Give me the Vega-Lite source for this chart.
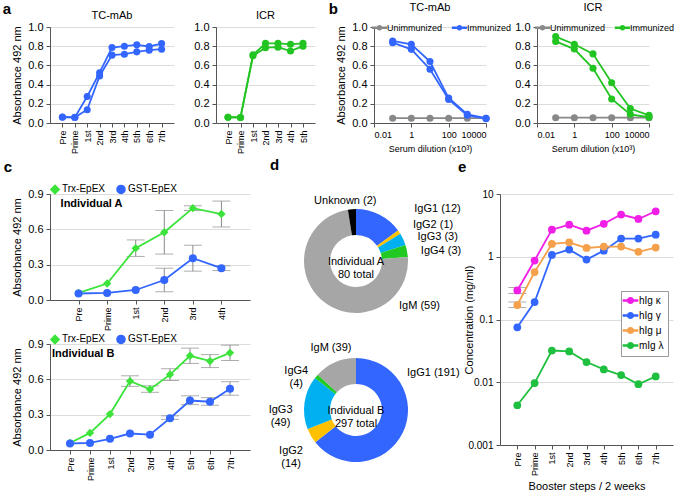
{
  "$schema": "https://vega.github.io/schema/vega-lite/v6.json",
  "padding": {"left": 2, "top": 2, "right": 0, "bottom": 0},
  "spacing": 4,
  "resolve": {"scale": {"color": "independent", "shape": "independent", "size": "independent"}, "legend": {"color": "independent"}},
  "datasets": {
    "a": [
      {"strain": "TC-mAb", "rep": "1", "step": "Pre", "abs": 0.062},
      {"strain": "TC-mAb", "rep": "1", "step": "Prime", "abs": 0.058},
      {"strain": "TC-mAb", "rep": "1", "step": "1st", "abs": 0.276},
      {"strain": "TC-mAb", "rep": "1", "step": "2nd", "abs": 0.524},
      {"strain": "TC-mAb", "rep": "1", "step": "3rd", "abs": 0.786},
      {"strain": "TC-mAb", "rep": "1", "step": "4th", "abs": 0.8},
      {"strain": "TC-mAb", "rep": "1", "step": "5th", "abs": 0.814},
      {"strain": "TC-mAb", "rep": "1", "step": "6th", "abs": 0.797},
      {"strain": "TC-mAb", "rep": "1", "step": "7th", "abs": 0.828},
      {"strain": "TC-mAb", "rep": "2", "step": "Pre", "abs": 0.06},
      {"strain": "TC-mAb", "rep": "2", "step": "Prime", "abs": 0.06},
      {"strain": "TC-mAb", "rep": "2", "step": "1st", "abs": 0.138},
      {"strain": "TC-mAb", "rep": "2", "step": "2nd", "abs": 0.49},
      {"strain": "TC-mAb", "rep": "2", "step": "3rd", "abs": 0.707},
      {"strain": "TC-mAb", "rep": "2", "step": "4th", "abs": 0.717},
      {"strain": "TC-mAb", "rep": "2", "step": "5th", "abs": 0.741},
      {"strain": "TC-mAb", "rep": "2", "step": "6th", "abs": 0.759},
      {"strain": "TC-mAb", "rep": "2", "step": "7th", "abs": 0.769},
      {"strain": "ICR", "rep": "1", "step": "Pre", "abs": 0.06},
      {"strain": "ICR", "rep": "1", "step": "Prime", "abs": 0.058},
      {"strain": "ICR", "rep": "1", "step": "1st", "abs": 0.71},
      {"strain": "ICR", "rep": "1", "step": "2nd", "abs": 0.83},
      {"strain": "ICR", "rep": "1", "step": "3rd", "abs": 0.83},
      {"strain": "ICR", "rep": "1", "step": "4th", "abs": 0.82},
      {"strain": "ICR", "rep": "1", "step": "5th", "abs": 0.83},
      {"strain": "ICR", "rep": "2", "step": "Pre", "abs": 0.06},
      {"strain": "ICR", "rep": "2", "step": "Prime", "abs": 0.058},
      {"strain": "ICR", "rep": "2", "step": "1st", "abs": 0.7},
      {"strain": "ICR", "rep": "2", "step": "2nd", "abs": 0.785},
      {"strain": "ICR", "rep": "2", "step": "3rd", "abs": 0.79},
      {"strain": "ICR", "rep": "2", "step": "4th", "abs": 0.75},
      {"strain": "ICR", "rep": "2", "step": "5th", "abs": 0.8}
    ],
    "b": [
      {"strain": "TC-mAb", "grp": "Unimmunized", "rep": "u1", "dil": 0.1, "abs": 0.05},
      {"strain": "TC-mAb", "grp": "Unimmunized", "rep": "u1", "dil": 1, "abs": 0.05},
      {"strain": "TC-mAb", "grp": "Unimmunized", "rep": "u1", "dil": 10, "abs": 0.05},
      {"strain": "TC-mAb", "grp": "Unimmunized", "rep": "u1", "dil": 100, "abs": 0.05},
      {"strain": "TC-mAb", "grp": "Unimmunized", "rep": "u1", "dil": 1000, "abs": 0.05},
      {"strain": "TC-mAb", "grp": "Unimmunized", "rep": "u1", "dil": 10000, "abs": 0.05},
      {"strain": "TC-mAb", "grp": "Immunized", "rep": "i1", "dil": 0.1, "abs": 0.855},
      {"strain": "TC-mAb", "grp": "Immunized", "rep": "i1", "dil": 1, "abs": 0.82},
      {"strain": "TC-mAb", "grp": "Immunized", "rep": "i1", "dil": 10, "abs": 0.64},
      {"strain": "TC-mAb", "grp": "Immunized", "rep": "i1", "dil": 100, "abs": 0.26},
      {"strain": "TC-mAb", "grp": "Immunized", "rep": "i1", "dil": 1000, "abs": 0.09},
      {"strain": "TC-mAb", "grp": "Immunized", "rep": "i1", "dil": 10000, "abs": 0.05},
      {"strain": "TC-mAb", "grp": "Immunized", "rep": "i2", "dil": 0.1, "abs": 0.837},
      {"strain": "TC-mAb", "grp": "Immunized", "rep": "i2", "dil": 1, "abs": 0.767},
      {"strain": "TC-mAb", "grp": "Immunized", "rep": "i2", "dil": 10, "abs": 0.56},
      {"strain": "TC-mAb", "grp": "Immunized", "rep": "i2", "dil": 100, "abs": 0.245},
      {"strain": "TC-mAb", "grp": "Immunized", "rep": "i2", "dil": 1000, "abs": 0.08},
      {"strain": "TC-mAb", "grp": "Immunized", "rep": "i2", "dil": 10000, "abs": 0.045},
      {"strain": "ICR", "grp": "Unimmunized", "rep": "u1", "dil": 0.1, "abs": 0.055},
      {"strain": "ICR", "grp": "Unimmunized", "rep": "u1", "dil": 1, "abs": 0.055},
      {"strain": "ICR", "grp": "Unimmunized", "rep": "u1", "dil": 10, "abs": 0.055},
      {"strain": "ICR", "grp": "Unimmunized", "rep": "u1", "dil": 100, "abs": 0.055},
      {"strain": "ICR", "grp": "Unimmunized", "rep": "u1", "dil": 1000, "abs": 0.055},
      {"strain": "ICR", "grp": "Unimmunized", "rep": "u1", "dil": 10000, "abs": 0.055},
      {"strain": "ICR", "grp": "Immunized", "rep": "i1", "dil": 0.1, "abs": 0.9},
      {"strain": "ICR", "grp": "Immunized", "rep": "i1", "dil": 1, "abs": 0.82},
      {"strain": "ICR", "grp": "Immunized", "rep": "i1", "dil": 10, "abs": 0.72},
      {"strain": "ICR", "grp": "Immunized", "rep": "i1", "dil": 100, "abs": 0.42},
      {"strain": "ICR", "grp": "Immunized", "rep": "i1", "dil": 1000, "abs": 0.15},
      {"strain": "ICR", "grp": "Immunized", "rep": "i1", "dil": 10000, "abs": 0.08},
      {"strain": "ICR", "grp": "Immunized", "rep": "i2", "dil": 0.1, "abs": 0.85},
      {"strain": "ICR", "grp": "Immunized", "rep": "i2", "dil": 1, "abs": 0.77},
      {"strain": "ICR", "grp": "Immunized", "rep": "i2", "dil": 10, "abs": 0.57},
      {"strain": "ICR", "grp": "Immunized", "rep": "i2", "dil": 100, "abs": 0.25},
      {"strain": "ICR", "grp": "Immunized", "rep": "i2", "dil": 1000, "abs": 0.09},
      {"strain": "ICR", "grp": "Immunized", "rep": "i2", "dil": 10000, "abs": 0.06}
    ],
    "c": [
      {"ind": "A", "ag": "Trx-EpEX", "step": "Pre", "abs": 0.06},
      {"ind": "A", "ag": "Trx-EpEX", "step": "Prime", "abs": 0.14},
      {"ind": "A", "ag": "Trx-EpEX", "step": "1st", "abs": 0.44, "lo": 0.37, "hi": 0.51},
      {"ind": "A", "ag": "Trx-EpEX", "step": "2nd", "abs": 0.575, "lo": 0.39, "hi": 0.76},
      {"ind": "A", "ag": "Trx-EpEX", "step": "3rd", "abs": 0.78, "lo": 0.76, "hi": 0.8},
      {"ind": "A", "ag": "Trx-EpEX", "step": "4th", "abs": 0.73, "lo": 0.62, "hi": 0.84},
      {"ind": "A", "ag": "GST-EpEX", "step": "Pre", "abs": 0.055},
      {"ind": "A", "ag": "GST-EpEX", "step": "Prime", "abs": 0.06},
      {"ind": "A", "ag": "GST-EpEX", "step": "1st", "abs": 0.085},
      {"ind": "A", "ag": "GST-EpEX", "step": "2nd", "abs": 0.17, "lo": 0.07, "hi": 0.27},
      {"ind": "A", "ag": "GST-EpEX", "step": "3rd", "abs": 0.355, "lo": 0.245, "hi": 0.465},
      {"ind": "A", "ag": "GST-EpEX", "step": "4th", "abs": 0.27, "lo": 0.25, "hi": 0.29},
      {"ind": "B", "ag": "Trx-EpEX", "step": "Pre", "abs": 0.06},
      {"ind": "B", "ag": "Trx-EpEX", "step": "Prime", "abs": 0.145},
      {"ind": "B", "ag": "Trx-EpEX", "step": "1st", "abs": 0.305},
      {"ind": "B", "ag": "Trx-EpEX", "step": "2nd", "abs": 0.585, "lo": 0.54, "hi": 0.63},
      {"ind": "B", "ag": "Trx-EpEX", "step": "3rd", "abs": 0.515, "lo": 0.49, "hi": 0.545},
      {"ind": "B", "ag": "Trx-EpEX", "step": "4th", "abs": 0.64, "lo": 0.59, "hi": 0.69},
      {"ind": "B", "ag": "Trx-EpEX", "step": "5th", "abs": 0.8, "lo": 0.735, "hi": 0.865},
      {"ind": "B", "ag": "Trx-EpEX", "step": "6th", "abs": 0.755, "lo": 0.7, "hi": 0.81},
      {"ind": "B", "ag": "Trx-EpEX", "step": "7th", "abs": 0.825, "lo": 0.76, "hi": 0.89},
      {"ind": "B", "ag": "GST-EpEX", "step": "Pre", "abs": 0.055},
      {"ind": "B", "ag": "GST-EpEX", "step": "Prime", "abs": 0.06},
      {"ind": "B", "ag": "GST-EpEX", "step": "1st", "abs": 0.095},
      {"ind": "B", "ag": "GST-EpEX", "step": "2nd", "abs": 0.14},
      {"ind": "B", "ag": "GST-EpEX", "step": "3rd", "abs": 0.13},
      {"ind": "B", "ag": "GST-EpEX", "step": "4th", "abs": 0.27, "lo": 0.26, "hi": 0.29},
      {"ind": "B", "ag": "GST-EpEX", "step": "5th", "abs": 0.42, "lo": 0.385, "hi": 0.46},
      {"ind": "B", "ag": "GST-EpEX", "step": "6th", "abs": 0.41, "lo": 0.38, "hi": 0.445},
      {"ind": "B", "ag": "GST-EpEX", "step": "7th", "abs": 0.52, "lo": 0.465, "hi": 0.58}
    ],
    "d": [
      {"ind": "A", "iso": "IgG1", "n": 12, "ord": 1, "label": "IgG1 (12)", "center": "Individual A\n80 total"},
      {"ind": "A", "iso": "IgG2", "n": 1, "ord": 2, "label": "IgG2 (1)"},
      {"ind": "A", "iso": "IgG3", "n": 3, "ord": 3, "label": "IgG3 (3)"},
      {"ind": "A", "iso": "IgG4", "n": 3, "ord": 4, "label": "IgG4 (3)"},
      {"ind": "A", "iso": "IgM", "n": 59, "ord": 5, "label": "IgM (59)"},
      {"ind": "A", "iso": "Unknown", "n": 2, "ord": 6, "label": "Unknown (2)"},
      {"ind": "B", "iso": "IgG1", "n": 191, "ord": 1, "label": "IgG1 (191)", "center": "Individual B\n297 total"},
      {"ind": "B", "iso": "IgG2", "n": 14, "ord": 2, "label": "IgG2\n(14)"},
      {"ind": "B", "iso": "IgG3", "n": 49, "ord": 3, "label": "IgG3\n(49)"},
      {"ind": "B", "iso": "IgG4", "n": 4, "ord": 4, "label": "IgG4\n(4)"},
      {"ind": "B", "iso": "IgM", "n": 39, "ord": 5, "label": "IgM (39)"}
    ],
    "e": [
      {"ig": "hIg κ", "step": "Pre", "conc": 0.29, "lo": 0.26, "hi": 0.325},
      {"ig": "hIg κ", "step": "Prime", "conc": 0.87},
      {"ig": "hIg κ", "step": "1st", "conc": 2.7},
      {"ig": "hIg κ", "step": "2nd", "conc": 3.25},
      {"ig": "hIg κ", "step": "3rd", "conc": 2.6},
      {"ig": "hIg κ", "step": "4th", "conc": 3.35},
      {"ig": "hIg κ", "step": "5th", "conc": 4.7},
      {"ig": "hIg κ", "step": "6th", "conc": 4.0},
      {"ig": "hIg κ", "step": "7th", "conc": 5.3},
      {"ig": "hIg γ", "step": "Pre", "conc": 0.075},
      {"ig": "hIg γ", "step": "Prime", "conc": 0.19},
      {"ig": "hIg γ", "step": "1st", "conc": 1.07},
      {"ig": "hIg γ", "step": "2nd", "conc": 1.3},
      {"ig": "hIg γ", "step": "3rd", "conc": 0.9},
      {"ig": "hIg γ", "step": "4th", "conc": 1.25},
      {"ig": "hIg γ", "step": "5th", "conc": 1.95},
      {"ig": "hIg γ", "step": "6th", "conc": 1.95},
      {"ig": "hIg γ", "step": "7th", "conc": 2.25},
      {"ig": "hIg μ", "step": "Pre", "conc": 0.17, "lo": 0.155, "hi": 0.19},
      {"ig": "hIg μ", "step": "Prime", "conc": 0.57},
      {"ig": "hIg μ", "step": "1st", "conc": 1.6},
      {"ig": "hIg μ", "step": "2nd", "conc": 1.7},
      {"ig": "hIg μ", "step": "3rd", "conc": 1.38},
      {"ig": "hIg μ", "step": "4th", "conc": 1.45},
      {"ig": "hIg μ", "step": "5th", "conc": 1.45},
      {"ig": "hIg μ", "step": "6th", "conc": 1.2},
      {"ig": "hIg μ", "step": "7th", "conc": 1.4},
      {"ig": "mIg λ", "step": "Pre", "conc": 0.0043},
      {"ig": "mIg λ", "step": "Prime", "conc": 0.0097},
      {"ig": "mIg λ", "step": "1st", "conc": 0.032},
      {"ig": "mIg λ", "step": "2nd", "conc": 0.031},
      {"ig": "mIg λ", "step": "3rd", "conc": 0.021},
      {"ig": "mIg λ", "step": "4th", "conc": 0.016},
      {"ig": "mIg λ", "step": "5th", "conc": 0.013},
      {"ig": "mIg λ", "step": "6th", "conc": 0.0093},
      {"ig": "mIg λ", "step": "7th", "conc": 0.0124}
    ]
  },
  "config": {
    "font": "Liberation Sans",
    "view": {"stroke": null},
    "axis": {"labelColor": "#000", "titleColor": "#000", "labelFontSize": 11, "titleFontSize": 11, "titleFontWeight": "normal", "domainColor": "#555", "tickColor": "#555", "gridColor": "#dcdcdc", "labelPadding": 3, "tickSize": 4, "titlePadding": 5},
    "axisX": {"grid": false},
    "title": {"fontWeight": "normal", "fontSize": 11, "color": "#000"},
    "legend": {"labelColor": "#000", "labelFontSize": 9, "title": null}
  },
  "vconcat": [
    {
      "spacing": 13,
      "resolve": {"scale": {"color": "independent"}, "legend": {"color": "independent"}},
      "hconcat": [
        {
          "title": {"text": "a", "anchor": "start", "fontSize": 15, "fontWeight": "bold", "offset": -7, "dx": -9},
          "spacing": 19,
          "hconcat": [
            {
              "width": 124, "height": 96,
              "title": {"text": "TC-mAb", "offset": 0},
              "data": {"name": "a"},
              "transform": [{"filter": "datum.strain === 'TC-mAb'"}],
              "encoding": {
                "x": {"field": "step", "type": "ordinal", "sort": ["Pre", "Prime", "1st", "2nd", "3rd", "4th", "5th", "6th", "7th"], "scale": {"type": "point", "padding": 1.1}, "axis": {"title": null, "labelAngle": -90, "labelFontSize": 9}},
                "y": {"field": "abs", "type": "quantitative", "scale": {"domain": [0, 1]}, "axis": {"title": "Absorbance 492 nm", "values": [0, 0.2, 0.4, 0.6, 0.8, 1], "format": ".1f"}},
                "detail": {"field": "rep", "type": "nominal"}
              },
              "layer": [
                {"mark": {"type": "line", "color": "#3366ff", "strokeWidth": 1.8}},
                {"mark": {"type": "point", "filled": true, "opacity": 1, "size": 50, "color": "#3366ff"}}
              ]
            },
            {
              "width": 99, "height": 96,
              "title": {"text": "ICR", "offset": 0},
              "data": {"name": "a"},
              "transform": [{"filter": "datum.strain === 'ICR'"}],
              "encoding": {
                "x": {"field": "step", "type": "ordinal", "sort": ["Pre", "Prime", "1st", "2nd", "3rd", "4th", "5th"], "scale": {"type": "point", "padding": 0.96}, "axis": {"title": null, "labelAngle": -90, "labelFontSize": 9}},
                "y": {"field": "abs", "type": "quantitative", "scale": {"domain": [0, 1]}, "axis": {"title": null, "values": [0, 0.2, 0.4, 0.6, 0.8, 1], "format": ".1f"}},
                "detail": {"field": "rep", "type": "nominal"}
              },
              "layer": [
                {"mark": {"type": "line", "color": "#22c422", "strokeWidth": 1.8}},
                {"mark": {"type": "point", "filled": true, "opacity": 1, "size": 50, "color": "#22c422"}}
              ]
            }
          ]
        },
        {
          "title": {"text": "b", "anchor": "start", "fontSize": 15, "fontWeight": "bold", "offset": -15, "dx": -7},
          "spacing": 2,
          "resolve": {"scale": {"color": "independent"}, "legend": {"color": "independent"}},
          "hconcat": [
            {
              "width": 112, "height": 96,
              "title": {"text": "TC-mAb", "offset": 8},
              "data": {"name": "b"},
              "transform": [{"filter": "datum.strain === 'TC-mAb'"}],
              "encoding": {
                "x": {"field": "dil", "type": "quantitative", "scale": {"type": "log", "domain": [0.01, 10000], "nice": false}, "axis": {"title": "Serum dilution (x10³)", "values": [0.01, 1, 100, 10000], "format": "~g", "labelFontSize": 9, "titleFontSize": 9}},
                "y": {"field": "abs", "type": "quantitative", "scale": {"domain": [0, 1]}, "axis": {"title": "Absorbance 492 nm", "values": [0, 0.2, 0.4, 0.6, 0.8, 1], "format": ".1f"}},
                "detail": {"field": "rep", "type": "nominal"},
                "color": {"field": "grp", "type": "nominal", "scale": {"domain": ["Unimmunized", "Immunized"], "range": ["#888888", "#3366ff"]}, "legend": {"orient": "top", "direction": "horizontal", "offset": -6, "padding": 0, "columnPadding": 6, "symbolSize": 85, "labelOffset": 2, "encode": {"symbols": {"update": {"shape": {"value": "M-1.5,-0.12L1.5,-0.12L1.5,0.12L-1.5,0.12Z M0.45,0A0.45,0.45,0,1,1,-0.45,0A0.45,0.45,0,1,1,0.45,0Z"}, "fill": {"signal": "datum.value === 'Immunized' ? '#3366ff' : '#888888'"}, "stroke": {"value": "transparent"}}}}}}
              },
              "layer": [
                {"mark": {"type": "line", "strokeWidth": 1.8}},
                {"mark": {"type": "point", "filled": true, "opacity": 1, "size": 50}}
              ]
            },
            {
              "width": 112, "height": 96,
              "title": {"text": "ICR", "offset": 8},
              "data": {"name": "b"},
              "transform": [{"filter": "datum.strain === 'ICR'"}],
              "encoding": {
                "x": {"field": "dil", "type": "quantitative", "scale": {"type": "log", "domain": [0.01, 10000], "nice": false}, "axis": {"title": "Serum dilution (x10³)", "values": [0.01, 1, 100, 10000], "format": "~g", "labelFontSize": 9, "titleFontSize": 9}},
                "y": {"field": "abs", "type": "quantitative", "scale": {"domain": [0, 1]}, "axis": {"title": null, "values": [0, 0.2, 0.4, 0.6, 0.8, 1], "format": ".1f"}},
                "detail": {"field": "rep", "type": "nominal"},
                "color": {"field": "grp", "type": "nominal", "scale": {"domain": ["Unimmunized", "Immunized"], "range": ["#888888", "#22c422"]}, "legend": {"orient": "top", "direction": "horizontal", "offset": -6, "padding": 0, "columnPadding": 6, "symbolSize": 85, "labelOffset": 2, "encode": {"symbols": {"update": {"shape": {"value": "M-1.5,-0.12L1.5,-0.12L1.5,0.12L-1.5,0.12Z M0.45,0A0.45,0.45,0,1,1,-0.45,0A0.45,0.45,0,1,1,0.45,0Z"}, "fill": {"signal": "datum.value === 'Immunized' ? '#22c422' : '#888888'"}, "stroke": {"value": "transparent"}}}}}}
              },
              "layer": [
                {"mark": {"type": "line", "strokeWidth": 1.8}},
                {"mark": {"type": "point", "filled": true, "opacity": 1, "size": 50}}
              ]
            }
          ]
        }
      ]
    },
    {
      "spacing": 8,
      "resolve": {"scale": {"color": "independent", "shape": "independent", "size": "independent"}, "legend": {"color": "independent"}},
      "hconcat": [
        {
          "spacing": 3,
          "resolve": {"scale": {"color": "independent", "shape": "independent", "size": "independent"}, "legend": {"color": "independent"}},
          "vconcat": [
            {
              "width": 200, "height": 106,
              "title": {"text": "c", "anchor": "start", "frame": "bounds", "fontSize": 15, "fontWeight": "bold", "offset": 9, "dx": -8},
              "data": {"name": "c"},
              "transform": [{"filter": "datum.ind === 'A'"}],
              "encoding": {
                "x": {"field": "step", "type": "ordinal", "sort": ["Pre", "Prime", "1st", "2nd", "3rd", "4th", "5th", "6th", "7th"], "scale": {"type": "point", "padding": 1.05}, "axis": {"title": null, "labelAngle": -90, "labelFontSize": 9, "labelExpr": "indexof(['Pre','Prime','1st','2nd','3rd','4th'], datum.value) >= 0 ? datum.value : ''"}},
                "y": {"field": "abs", "type": "quantitative", "scale": {"domain": [0, 0.9]}, "axis": {"title": "Absorbance 492 nm", "values": [0, 0.3, 0.6, 0.9], "format": ".1f"}},
                "color": {"field": "ag", "type": "nominal", "scale": {"domain": ["Trx-EpEX", "GST-EpEX"], "range": ["#3be33b", "#3366ff"]}, "legend": {"orient": "top", "direction": "horizontal", "offset": -3, "padding": 0, "columnPadding": 8, "symbolSize": 90, "labelOffset": 2, "labelFontSize": 10, "encode": {"symbols": {"update": {"shape": {"signal": "datum.value === 'Trx-EpEX' ? 'M-1.5,-0.12L1.5,-0.12L1.5,0.12L-1.5,0.12Z M0,-0.62L0.62,0L0,0.62L-0.62,0Z' : 'M-1.5,-0.12L1.5,-0.12L1.5,0.12L-1.5,0.12Z M-0.5,-0.5L0.5,-0.5L0.5,0.5L-0.5,0.5Z'"}, "fill": {"signal": "datum.value === 'Trx-EpEX' ? '#3be33b' : '#3366ff'"}, "stroke": {"value": "transparent"}}}}}}
              },
              "layer": [
                {"transform": [{"filter": "isValid(datum.lo)"}], "mark": {"type": "errorbar", "ticks": true, "color": "#8a8a8a"}, "encoding": {"y": {"field": "lo", "type": "quantitative"}, "y2": {"field": "hi"}, "color": {"value": "#8a8a8a"}}},
                {"mark": {"type": "line", "strokeWidth": 1.8}},
                {"mark": {"type": "point", "filled": true, "opacity": 1}, "encoding": {
                  "shape": {"field": "ag", "type": "nominal", "scale": {"domain": ["Trx-EpEX", "GST-EpEX"], "range": ["diamond", "circle"]}, "legend": null},
                  "size": {"field": "ag", "type": "nominal", "scale": {"domain": ["Trx-EpEX", "GST-EpEX"], "range": [70, 65]}, "legend": null}
                }},
                {"mark": {"type": "text", "align": "left", "baseline": "middle", "fontWeight": "bold", "fontSize": 11, "dx": -18}, "encoding": {"x": {"datum": "Pre"}, "y": {"datum": 0.815}, "color": {"value": "#000"}, "text": {"condition": {"test": "datum.ag === 'Trx-EpEX' && datum.step === 'Pre'", "value": "Individual A"}, "value": ""}}}
              ]
            },
            {
              "width": 200, "height": 106,
              "data": {"name": "c"},
              "transform": [{"filter": "datum.ind === 'B'"}],
              "encoding": {
                "x": {"field": "step", "type": "ordinal", "sort": ["Pre", "Prime", "1st", "2nd", "3rd", "4th", "5th", "6th", "7th"], "scale": {"type": "point", "padding": 1.05}, "axis": {"title": null, "labelAngle": -90, "labelFontSize": 9}},
                "y": {"field": "abs", "type": "quantitative", "scale": {"domain": [0, 0.9]}, "axis": {"title": "Absorbance 492 nm", "values": [0, 0.3, 0.6, 0.9], "format": ".1f"}},
                "color": {"field": "ag", "type": "nominal", "scale": {"domain": ["Trx-EpEX", "GST-EpEX"], "range": ["#3be33b", "#3366ff"]}, "legend": {"orient": "top", "direction": "horizontal", "offset": -3, "padding": 0, "columnPadding": 8, "symbolSize": 90, "labelOffset": 2, "labelFontSize": 10, "encode": {"symbols": {"update": {"shape": {"signal": "datum.value === 'Trx-EpEX' ? 'M-1.5,-0.12L1.5,-0.12L1.5,0.12L-1.5,0.12Z M0,-0.62L0.62,0L0,0.62L-0.62,0Z' : 'M-1.5,-0.12L1.5,-0.12L1.5,0.12L-1.5,0.12Z M-0.5,-0.5L0.5,-0.5L0.5,0.5L-0.5,0.5Z'"}, "fill": {"signal": "datum.value === 'Trx-EpEX' ? '#3be33b' : '#3366ff'"}, "stroke": {"value": "transparent"}}}}}}
              },
              "layer": [
                {"transform": [{"filter": "isValid(datum.lo)"}], "mark": {"type": "errorbar", "ticks": true, "color": "#8a8a8a"}, "encoding": {"y": {"field": "lo", "type": "quantitative"}, "y2": {"field": "hi"}, "color": {"value": "#8a8a8a"}}},
                {"mark": {"type": "line", "strokeWidth": 1.8}},
                {"mark": {"type": "point", "filled": true, "opacity": 1}, "encoding": {
                  "shape": {"field": "ag", "type": "nominal", "scale": {"domain": ["Trx-EpEX", "GST-EpEX"], "range": ["diamond", "circle"]}, "legend": null},
                  "size": {"field": "ag", "type": "nominal", "scale": {"domain": ["Trx-EpEX", "GST-EpEX"], "range": [70, 65]}, "legend": null}
                }},
                {"mark": {"type": "text", "align": "left", "baseline": "middle", "fontWeight": "bold", "fontSize": 11, "dx": -18}, "encoding": {"x": {"datum": "Pre"}, "y": {"datum": 0.815}, "color": {"value": "#000"}, "text": {"condition": {"test": "datum.ag === 'Trx-EpEX' && datum.step === 'Pre'", "value": "Individual B"}, "value": ""}}}
              ]
            }
          ]
        },
        {
          "spacing": -5,
          "resolve": {"scale": {"color": "independent"}, "legend": {"color": "independent"}},
          "hconcat": [
            {
              "spacing": 13,
              "resolve": {"scale": {"color": "independent"}},
              "vconcat": [
                {
                  "width": 196, "height": 134,
                  "title": {"text": "d", "anchor": "start", "frame": "group", "fontSize": 15, "fontWeight": "bold", "offset": 19, "dx": 12},
                  "data": {"name": "d"},
                  "transform": [{"filter": "datum.ind === 'A'"}],
                  "layer": [
                    {"mark": {"type": "arc", "innerRadius": 26, "outerRadius": 52}, "encoding": {"theta": {"field": "n", "type": "quantitative", "stack": true}, "order": {"field": "ord", "type": "quantitative"}, "color": {"field": "iso", "type": "nominal", "scale": {"domain": ["IgG1", "IgG2", "IgG3", "IgG4", "IgM", "Unknown"], "range": ["#3366ff", "#ffc000", "#00b0f0", "#22c922", "#a6a6a6", "#000000"]}, "legend": null}}},
                    {"mark": {"type": "text", "radius": 60, "align": "left", "baseline": "middle", "dx": 31, "dy": 1, "fontSize": 11}, "encoding": {"theta": {"field": "n", "type": "quantitative", "stack": true}, "order": {"field": "ord", "type": "quantitative"}, "text": {"condition": {"test": "datum.iso === 'IgG1'", "field": "label", "type": "nominal"}, "value": ""}}},
                    {"mark": {"type": "text", "radius": 60, "align": "left", "baseline": "middle", "dx": 7, "dy": -3, "fontSize": 11}, "encoding": {"theta": {"field": "n", "type": "quantitative", "stack": true}, "order": {"field": "ord", "type": "quantitative"}, "text": {"condition": {"test": "datum.iso === 'IgG2'", "field": "label", "type": "nominal"}, "value": ""}}},
                    {"mark": {"type": "text", "radius": 60, "align": "left", "baseline": "middle", "dx": 7, "dy": 1, "fontSize": 11}, "encoding": {"theta": {"field": "n", "type": "quantitative", "stack": true}, "order": {"field": "ord", "type": "quantitative"}, "text": {"condition": {"test": "datum.iso === 'IgG3'", "field": "label", "type": "nominal"}, "value": ""}}},
                    {"mark": {"type": "text", "radius": 60, "align": "left", "baseline": "middle", "dx": 6, "dy": 2, "fontSize": 11}, "encoding": {"theta": {"field": "n", "type": "quantitative", "stack": true}, "order": {"field": "ord", "type": "quantitative"}, "text": {"condition": {"test": "datum.iso === 'IgG4'", "field": "label", "type": "nominal"}, "value": ""}}},
                    {"mark": {"type": "text", "align": "left", "baseline": "middle", "dx": 43, "dy": 45, "fontSize": 11}, "encoding": {"text": {"condition": {"test": "datum.iso === 'IgM'", "field": "label", "type": "nominal"}, "value": ""}}},
                    {"mark": {"type": "text", "radius": 60, "align": "center", "baseline": "middle", "dx": -6, "dy": 0, "fontSize": 11}, "encoding": {"theta": {"field": "n", "type": "quantitative", "stack": true}, "order": {"field": "ord", "type": "quantitative"}, "text": {"condition": {"test": "datum.iso === 'Unknown'", "field": "label", "type": "nominal"}, "value": ""}}},
                    {"mark": {"type": "text", "align": "center", "baseline": "middle", "fontSize": 11, "lineBreak": "\n", "dy": 1}, "encoding": {"text": {"condition": {"test": "datum.ord === 1", "field": "center", "type": "nominal"}, "value": ""}}}
                  ]
                },
                {
                  "width": 196, "height": 138,
                  "data": {"name": "d"},
                  "transform": [{"filter": "datum.ind === 'B'"}],
                  "layer": [
                    {"mark": {"type": "arc", "innerRadius": 26, "outerRadius": 52}, "encoding": {"theta": {"field": "n", "type": "quantitative", "stack": true}, "order": {"field": "ord", "type": "quantitative"}, "color": {"field": "iso", "type": "nominal", "scale": {"domain": ["IgG1", "IgG2", "IgG3", "IgG4", "IgM", "Unknown"], "range": ["#3366ff", "#ffc000", "#00b0f0", "#22c922", "#a6a6a6", "#000000"]}, "legend": null}}},
                    {"mark": {"type": "text", "align": "left", "baseline": "middle", "dx": 51, "dy": -37, "fontSize": 11}, "encoding": {"text": {"condition": {"test": "datum.iso === 'IgG1'", "field": "label", "type": "nominal"}, "value": ""}}},
                    {"mark": {"type": "text", "radius": 60, "align": "center", "baseline": "middle", "dx": -13, "dy": 11, "fontSize": 11, "lineBreak": "\n"}, "encoding": {"theta": {"field": "n", "type": "quantitative", "stack": true}, "order": {"field": "ord", "type": "quantitative"}, "text": {"condition": {"test": "datum.iso === 'IgG2'", "field": "label", "type": "nominal"}, "value": ""}}},
                    {"mark": {"type": "text", "radius": 60, "align": "center", "baseline": "middle", "dx": -16, "dy": 9, "fontSize": 11, "lineBreak": "\n"}, "encoding": {"theta": {"field": "n", "type": "quantitative", "stack": true}, "order": {"field": "ord", "type": "quantitative"}, "text": {"condition": {"test": "datum.iso === 'IgG3'", "field": "label", "type": "nominal"}, "value": ""}}},
                    {"mark": {"type": "text", "radius": 60, "align": "center", "baseline": "middle", "dx": -14, "dy": 0, "fontSize": 11, "lineBreak": "\n"}, "encoding": {"theta": {"field": "n", "type": "quantitative", "stack": true}, "order": {"field": "ord", "type": "quantitative"}, "text": {"condition": {"test": "datum.iso === 'IgG4'", "field": "label", "type": "nominal"}, "value": ""}}},
                    {"mark": {"type": "text", "radius": 60, "align": "center", "baseline": "middle", "dx": -1, "dy": -7, "fontSize": 11, "lineBreak": "\n"}, "encoding": {"theta": {"field": "n", "type": "quantitative", "stack": true}, "order": {"field": "ord", "type": "quantitative"}, "text": {"condition": {"test": "datum.iso === 'IgM'", "field": "label", "type": "nominal"}, "value": ""}}},
                    {"mark": {"type": "text", "align": "center", "baseline": "middle", "fontSize": 11, "lineBreak": "\n", "dy": 1}, "encoding": {"text": {"condition": {"test": "datum.ord === 1", "field": "center", "type": "nominal"}, "value": ""}}}
                  ]
                }
              ]
            },
            {
              "width": 173, "height": 251,
              "title": {"text": "e", "anchor": "start", "fontSize": 15, "fontWeight": "bold", "offset": 14, "dx": -6},
              "data": {"name": "e"},
              "encoding": {
                "x": {"field": "step", "type": "ordinal", "sort": ["Pre", "Prime", "1st", "2nd", "3rd", "4th", "5th", "6th", "7th"], "scale": {"type": "point", "padding": 1}, "axis": {"title": "Booster steps / 2 weeks", "labelAngle": -90, "labelFontSize": 9}},
                "y": {"field": "conc", "type": "quantitative", "scale": {"type": "log", "domain": [0.001, 10], "nice": false}, "axis": {"title": "Concentration (mg/ml)", "values": [0.001, 0.01, 0.1, 1, 10], "format": "~g", "labelFontSize": 10, "titlePadding": -7}},
                "color": {"field": "ig", "type": "nominal", "scale": {"domain": ["hIg κ", "hIg γ", "hIg μ", "mIg λ"], "range": ["#f01ee6", "#3366ff", "#f5a04a", "#1fbf3f"]}, "legend": {"orient": "none", "legendX": 121, "legendY": 97, "direction": "vertical", "strokeColor": "#999999", "fillColor": "#ffffff", "padding": 4, "rowPadding": 2, "labelFontSize": 10, "symbolSize": 90, "labelOffset": 3, "encode": {"symbols": {"update": {"shape": {"value": "M-1.5,-0.12L1.5,-0.12L1.5,0.12L-1.5,0.12Z M0.6,0A0.6,0.6,0,1,1,-0.6,0A0.6,0.6,0,1,1,0.6,0Z"}, "fill": {"signal": "datum.value === 'hIg κ' ? '#f01ee6' : datum.value === 'hIg γ' ? '#3366ff' : datum.value === 'hIg μ' ? '#ffc000' : '#1fbf3f'"}, "stroke": {"value": "transparent"}}}}}}
              },
              "layer": [
                {"transform": [{"filter": "isValid(datum.lo)"}], "mark": {"type": "errorbar", "ticks": true, "color": "#8a8a8a"}, "encoding": {"y": {"field": "lo", "type": "quantitative"}, "y2": {"field": "hi"}, "color": {"value": "#8a8a8a"}}},
                {"mark": {"type": "line", "strokeWidth": 1.8}},
                {"mark": {"type": "point", "filled": true, "opacity": 1, "size": 60}}
              ]
            }
          ]
        }
      ]
    }
  ]
}
